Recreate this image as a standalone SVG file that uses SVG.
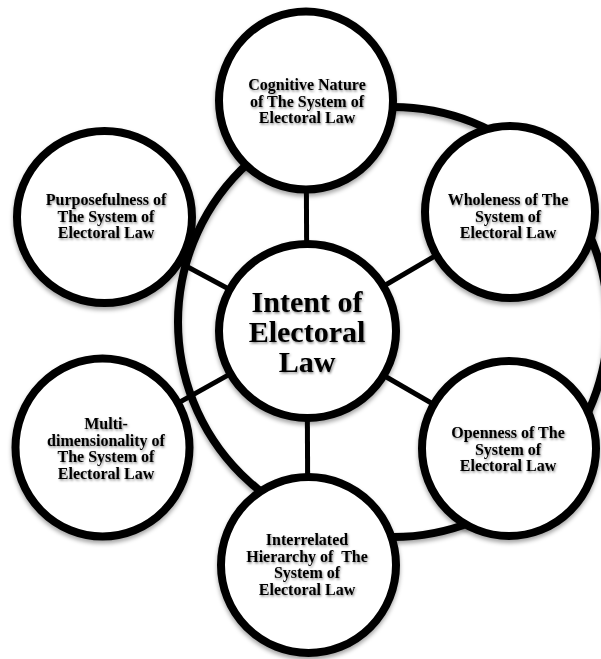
<svg xmlns="http://www.w3.org/2000/svg" width="601" height="659" viewBox="0 0 601 659">
  <defs>
    <filter id="shadow" x="-20%" y="-20%" width="140%" height="140%">
      <feDropShadow dx="0" dy="3" stdDeviation="2" flood-color="#000" flood-opacity="0.35"/>
    </filter>
    <filter id="tshadow" x="-10%" y="-20%" width="120%" height="150%">
      <feDropShadow dx="1" dy="1.5" stdDeviation="1" flood-color="#000" flood-opacity="0.45"/>
    </filter>
  </defs>
  <style>
    .node { fill: #fff; stroke: #000; stroke-width: 8; }
    .ring { fill: none; stroke: #000; stroke-width: 8; }
    .conn { stroke: #000; stroke-width: 5; fill: none; }
    .lbl { font-family: "Liberation Serif", "Times New Roman", serif; font-weight: bold; font-size: 16px; text-anchor: middle; fill: #000; }
    .main { font-family: "Liberation Serif", "Times New Roman", serif; font-weight: bold; font-size: 30px; text-anchor: middle; fill: #000; }
  </style>
  <rect width="601" height="659" fill="#fff"/>
  <g id="connectors">
    <circle class="ring" cx="393" cy="322" r="215" filter="url(#shadow)"/>
    <line class="conn" x1="307" y1="331" x2="306" y2="100"/>
    <line class="conn" x1="307" y1="331" x2="308" y2="565"/>
    <line class="conn" x1="307" y1="331" x2="104" y2="222"/>
    <line class="conn" x1="307" y1="331" x2="510" y2="212"/>
    <line class="conn" x1="307" y1="331" x2="509" y2="448"/>
    <line class="conn" x1="307" y1="331" x2="103" y2="445"/>
  </g>
  <g id="node-cognitive">
    <ellipse class="node" cx="306" cy="100.5" rx="87" ry="89" filter="url(#shadow)"/>
    <text class="lbl" filter="url(#tshadow)"><tspan x="307" y="90">Cognitive Nature</tspan><tspan x="307" y="106.5">of The System of</tspan><tspan x="307" y="123">Electoral Law</tspan></text>
  </g>
  <g id="node-purposefulness">
    <ellipse class="node" cx="104.5" cy="217" rx="87.5" ry="86" filter="url(#shadow)"/>
    <text class="lbl" filter="url(#tshadow)"><tspan x="106" y="205">Purposefulness of</tspan><tspan x="106" y="221.5">The System of</tspan><tspan x="106" y="238">Electoral Law</tspan></text>
  </g>
  <g id="node-wholeness">
    <ellipse class="node" cx="510" cy="212" rx="85" ry="86" filter="url(#shadow)"/>
    <text class="lbl" filter="url(#tshadow)"><tspan x="508" y="205">Wholeness of The</tspan><tspan x="508" y="221.5">System of</tspan><tspan x="508" y="238">Electoral Law</tspan></text>
  </g>
  <g id="node-multidimensionality">
    <ellipse class="node" cx="102.5" cy="447.5" rx="87" ry="89" filter="url(#shadow)"/>
    <text class="lbl" filter="url(#tshadow)"><tspan x="106" y="429">Multi-</tspan><tspan x="106" y="445.5">dimensionality of</tspan><tspan x="106" y="462">The System of</tspan><tspan x="106" y="478.5">Electoral Law</tspan></text>
  </g>
  <g id="node-openness">
    <ellipse class="node" cx="509" cy="448.5" rx="87" ry="87.5" filter="url(#shadow)"/>
    <text class="lbl" filter="url(#tshadow)"><tspan x="508" y="438">Openness of The</tspan><tspan x="508" y="454.5">System of</tspan><tspan x="508" y="471">Electoral Law</tspan></text>
  </g>
  <g id="node-interrelated">
    <ellipse class="node" cx="308.5" cy="565" rx="87.5" ry="88" filter="url(#shadow)"/>
    <text class="lbl" filter="url(#tshadow)"><tspan x="307" y="545">Interrelated</tspan><tspan x="307" y="561.5" xml:space="preserve">Hierarchy of  The</tspan><tspan x="307" y="578">System of</tspan><tspan x="307" y="594.5">Electoral Law</tspan></text>
  </g>
  <g id="node-center">
    <ellipse class="node" cx="307.5" cy="331" rx="88.5" ry="87" filter="url(#shadow)"/>
    <text class="main" filter="url(#tshadow)"><tspan x="307" y="312">Intent of</tspan><tspan x="307" y="342">Electoral</tspan><tspan x="307" y="372">Law</tspan></text>
  </g>
</svg>
